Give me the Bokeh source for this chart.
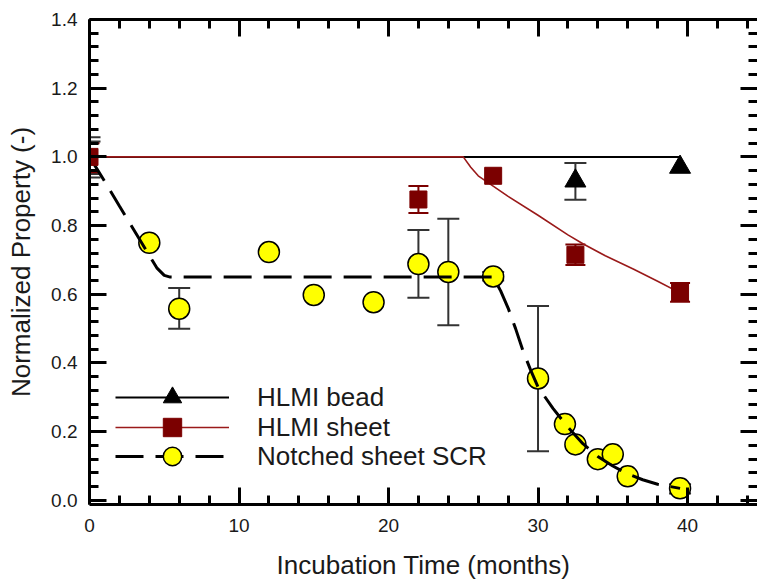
from bokeh.plotting import figure
from bokeh.models import (FixedTicker, LinearAxis, Range1d, Whisker, TeeHead,
                          ColumnDataSource, Legend, LegendItem)
from bokeh.embed import file_html
from bokeh.resources import INLINE

# ---------------- data ----------------
# HLMI bead (black triangles)
bead_x = [32.5, 39.5]
bead_y = [0.93, 0.97]
bead_err_x = [0, 32.5]
bead_err_lo = [0.95, 0.875]
bead_err_hi = [1.045, 0.982]
bead_fit_x = [0, 39.5]
bead_fit_y = [1.0, 1.0]

# HLMI sheet (maroon squares)
sheet_x = [0, 22, 27, 32.5, 39.5]
sheet_y = [1.0, 0.876, 0.945, 0.715, 0.605]
sheet_err_x = [0, 22, 32.5, 39.5]
sheet_err_lo = [0.955, 0.837, 0.685, 0.578]
sheet_err_hi = [1.04, 0.915, 0.745, 0.633]
sheet_fit_x = [0, 25, 25.5, 26, 27, 28, 30, 32, 33, 34.5, 36.4, 38, 39.5]
sheet_fit_y = [1.0, 1.0, 0.97, 0.945, 0.915, 0.885, 0.83, 0.773, 0.747, 0.712, 0.673, 0.638, 0.604]

# Notched sheet SCR (yellow circles)
scr_x = [4, 6, 12, 15, 19, 22, 24, 27, 30, 31.8, 32.5, 34, 35, 36, 39.5]
scr_y = [0.75, 0.558, 0.723, 0.598, 0.577, 0.688, 0.665, 0.652, 0.355, 0.222,
         0.163, 0.12, 0.134, 0.07, 0.035]
scr_err_x = [0, 6, 22, 24, 27, 30, 39.5]
scr_err_lo = [0.94, 0.5, 0.59, 0.51, 0.64, 0.143, 0.02]
scr_err_hi = [1.057, 0.618, 0.787, 0.82, 0.665, 0.566, 0.047]
scr_fit_x = [0, 1, 2, 3, 4, 4.5, 5, 5.4, 27, 27.5, 28, 28.5, 29, 29.5, 30, 31, 32,
             33, 34, 35, 36, 37, 38, 39.5]
scr_fit_y = [1.0, 0.93, 0.857, 0.785, 0.713, 0.677, 0.655, 0.65, 0.65, 0.61, 0.56,
             0.5, 0.435, 0.38, 0.33, 0.268, 0.213, 0.165, 0.128, 0.1, 0.077, 0.06,
             0.047, 0.035]

series_names = ["HLMI bead", "HLMI sheet", "Notched sheet SCR"]

x_major = [0, 10, 20, 30, 40]
x_minor = [2, 4, 6, 8, 12, 14, 16, 18, 22, 24, 26, 28, 32, 34, 36, 38, 42, 44]
y_major = [0.0, 0.2, 0.4, 0.6, 0.8, 1.0, 1.2, 1.4]
y_minor = [round(i * 0.04, 2) for i in range(36) if i % 5 != 0]

FONT = "Liberation Sans"
TXT = "#1a1a1a"
MAROON = "#7b0000"
REDLINE = "#9a1a1a"
ERRGRAY = "#333333"

p = figure(width=757, height=583, x_range=Range1d(0, 44.68), y_range=Range1d(-0.012, 1.4),
           output_backend="svg", toolbar_location=None,
           min_border_left=89, min_border_right=0, min_border_top=19, min_border_bottom=79)
p.outline_line_color = None
p.xgrid.grid_line_color = None
p.ygrid.grid_line_color = None
p.background_fill_color = "white"
p.border_fill_color = "white"


def style_axis(ax, ticks, minor, labels=True):
    ax.ticker = FixedTicker(ticks=ticks, minor_ticks=minor)
    ax.axis_line_width = 3
    ax.axis_line_color = "black"
    ax.major_tick_in = 17
    ax.major_tick_out = 0
    ax.minor_tick_in = 9
    ax.minor_tick_out = 0
    ax.major_tick_line_width = 3
    ax.minor_tick_line_width = 3
    ax.major_tick_line_color = "black"
    ax.minor_tick_line_color = "black"
    if labels:
        ax.major_label_text_font = FONT
        ax.major_label_text_font_size = "19px"
        ax.major_label_text_color = TXT
        ax.axis_label_text_font = FONT
        ax.axis_label_text_font_size = "26px"
        ax.axis_label_text_font_style = "normal"
        ax.axis_label_text_color = TXT
    else:
        ax.major_label_overrides = {v: "" for v in ticks}
        ax.major_label_standoff = 0


xa = p.xaxis[0]
style_axis(xa, x_major, x_minor)
xa.axis_label = "Incubation Time (months)"
xa.major_label_standoff = 14
xa.axis_label_standoff = 15
xa.major_label_overrides = {v: str(v) for v in x_major}

ya = p.yaxis[0]
style_axis(ya, y_major, y_minor)
ya.axis_label = "Normalized Property (-)"
ya.major_label_standoff = 12
ya.axis_label_standoff = 12
ya.major_label_overrides = {v: f"{v:.1f}" for v in y_major}

top = LinearAxis()
style_axis(top, x_major, x_minor, labels=False)
p.add_layout(top, "above")
right = LinearAxis()
style_axis(right, y_major, y_minor, labels=False)
right.axis_line_color = None
p.add_layout(right, "right")

# fit lines
bead_line = p.line(bead_fit_x, bead_fit_y, line_color="black", line_width=2)
sheet_line = p.line(sheet_fit_x, sheet_fit_y, line_color=REDLINE, line_width=1.6)

# error bars
def add_err(xs, lo, hi, color, size):
    src = ColumnDataSource(dict(x=xs, lo=lo, hi=hi))
    w = Whisker(base="x", lower="lo", upper="hi", source=src, dimension="height",
                line_color=color, line_width=2,
                upper_head=TeeHead(size=size, line_color=color, line_width=2),
                lower_head=TeeHead(size=size, line_color=color, line_width=2))
    p.add_layout(w)

add_err(scr_err_x, scr_err_lo, scr_err_hi, ERRGRAY, 22)
add_err(bead_err_x, bead_err_lo, bead_err_hi, ERRGRAY, 22)
add_err(sheet_err_x, sheet_err_lo, sheet_err_hi, MAROON, 20)

# markers
scr_sc = p.scatter(scr_x, scr_y, marker="circle", size=21, fill_color="#ffff00",
                   line_color="black", line_width=1.5)
scr_line = p.line(scr_fit_x, scr_fit_y, line_color="black", line_width=3, line_dash="28 12")
bead_sc = p.scatter(bead_x, bead_y, marker="triangle", size=21, fill_color="black",
                    line_color="black")
sheet_sc = p.scatter(sheet_x, sheet_y, marker="square", size=17, fill_color=MAROON,
                     line_color=MAROON)

legend_renderers = [[bead_line, bead_sc], [sheet_line, sheet_sc], [scr_line, scr_sc]]
legend_offsets = [84, 54, 25]
for name, rs, off in zip(series_names, legend_renderers, legend_offsets):
    lg = Legend(items=[LegendItem(label=name, renderers=rs)],
                location=(26, off), glyph_width=114, glyph_height=46, spacing=0,
                label_standoff=28, padding=0, margin=0, border_line_color=None,
                background_fill_alpha=0, label_text_font=FONT,
                label_text_font_size="26px", label_text_color=TXT)
    p.add_layout(lg)

open("out.html", "w").write(file_html(p, INLINE))
